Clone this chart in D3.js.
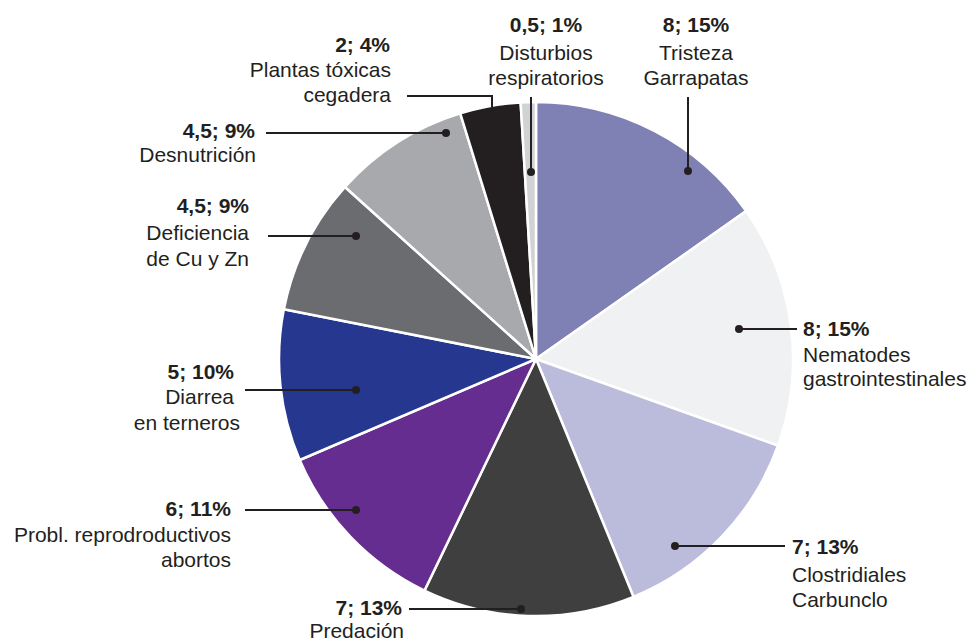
<!DOCTYPE html>
<html>
<head>
<meta charset="utf-8">
<script src="https://cdn.jsdelivr.net/npm/d3@7"></script>
<style>
  html, body { margin: 0; padding: 0; background: #ffffff; }
  svg { display: block; }
  text { font-family: "Liberation Sans", Arial, Helvetica, sans-serif; fill: #231f20; }
</style>
</head>
<body>
<svg id="chart" width="971" height="643"></svg>
<script>
// ---- data ----
const categories = [
  "Tristeza Garrapatas",
  "Nematodes gastrointestinales",
  "Clostridiales Carbunclo",
  "Predación",
  "Probl. reprodroductivos abortos",
  "Diarrea en terneros",
  "Deficiencia de Cu y Zn",
  "Desnutrición",
  "Plantas tóxicas cegadera",
  "Disturbios respiratorios"
];
const values = [8, 8, 7, 7, 6, 5, 4.5, 4.5, 2, 0.5];
const valueLabels = ["8", "8", "7", "7", "6", "5", "4,5", "4,5", "2", "0,5"];
const percentLabels = ["15%", "15%", "13%", "13%", "11%", "10%", "9%", "9%", "4%", "1%"];
const nameLines = [
  ["Tristeza", "Garrapatas"],
  ["Nematodes", "gastrointestinales"],
  ["Clostridiales", "Carbunclo"],
  ["Predación"],
  ["Probl. reprodroductivos", "abortos"],
  ["Diarrea", "en terneros"],
  ["Deficiencia", "de Cu y Zn"],
  ["Desnutrición"],
  ["Plantas tóxicas", "cegadera"],
  ["Disturbios", "respiratorios"]
];

// ---- styles / layout ----
const colors = ["#7f80b4", "#f0f1f3", "#bbbcdc", "#3f3f3f", "#662d91",
                "#263790", "#6b6c70", "#a8a9ad", "#231f20", "#d1d2d4"];
const cx = 536, cy = 359, R = 257;

// label layout: per line [x, baseline]; anchor per label
const labelLayout = [
  { anchor: "middle", lines: [[696, 32], [696, 60], [696, 85]] },
  { anchor: "start",  lines: [[803, 336], [803, 362], [803, 386]] },
  { anchor: "start",  lines: [[792, 554], [792, 582], [792, 607]] },
  { anchor: "end",    lines: [[402, 615], [404, 638]] },
  { anchor: "end",    lines: [[231, 516], [231, 542], [231, 567]] },
  { anchor: "end",    lines: [[234, 379], [234, 404], [240, 430]] },
  { anchor: "end",    lines: [[249, 213], [249, 240], [249, 266]] },
  { anchor: "end",    lines: [[255, 138], [256, 162]] },
  { anchor: "end",    lines: [[390, 52], [391, 77], [391, 102]] },
  { anchor: "middle", lines: [[546, 32], [546, 60], [546, 85]] }
];
// leader paths (polyline points) and dot position
const leaderLayout = [
  { pts: [[688, 97], [688, 171]], dot: [688, 171] },
  { pts: [[797, 329], [739, 329]], dot: [739, 329] },
  { pts: [[785, 546], [675, 546]], dot: [675, 546] },
  { pts: [[409, 609], [521, 609]], dot: [521, 609] },
  { pts: [[245, 510], [356, 510]], dot: [356, 510] },
  { pts: [[245, 390], [356, 390]], dot: [356, 390] },
  { pts: [[268, 236], [356, 236]], dot: [356, 236] },
  { pts: [[266, 133], [446, 133]], dot: [446, 133] },
  { pts: [[407, 96], [492, 96], [492, 108]], dot: null },
  { pts: [[531, 97], [531, 172]], dot: [531, 172] }
];

const svg = d3.select("#chart");

// ---- pie ----
const pie = d3.pie().sort(null).value(d => d).startAngle(0).endAngle(2 * Math.PI);
const arc = d3.arc().innerRadius(0).outerRadius(R);
const arcs = pie(values);

const g = svg.append("g").attr("transform", `translate(${cx},${cy})`);
g.selectAll("path.slice")
  .data(arcs)
  .join("path")
  .attr("class", "slice")
  .attr("d", arc)
  .attr("fill", (d, i) => colors[i])
  .attr("stroke", "#ffffff")
  .attr("stroke-width", 2.5)
  .attr("stroke-linejoin", "miter");

// ---- leaders ----
const line = d3.line();
const lg = svg.append("g");
leaderLayout.forEach(l => {
  lg.append("path")
    .attr("d", line(l.pts))
    .attr("fill", "none")
    .attr("stroke", "#231f20")
    .attr("stroke-width", 2);
  if (l.dot) {
    lg.append("circle")
      .attr("cx", l.dot[0]).attr("cy", l.dot[1]).attr("r", 4)
      .attr("fill", "#231f20");
  }
});

// ---- labels ----
const tg = svg.append("g");
categories.forEach((c, i) => {
  const lay = labelLayout[i];
  const texts = [`${valueLabels[i]}; ${percentLabels[i]}`].concat(nameLines[i]);
  texts.forEach((t, j) => {
    tg.append("text")
      .attr("x", lay.lines[j][0])
      .attr("y", lay.lines[j][1])
      .attr("text-anchor", lay.anchor)
      .attr("font-size", 21)
      .attr("font-weight", j === 0 ? "bold" : "normal")
      .text(t);
  });
});
</script>
</body>
</html>
